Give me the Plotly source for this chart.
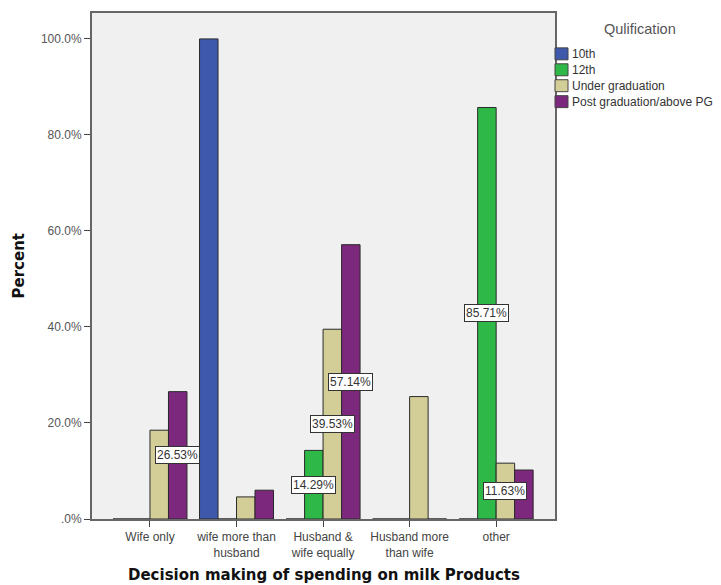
import plotly.graph_objects as go

categories = ["Wife only", "wife more than husband", "Husband & wife equally", "Husband more than wife", "other"]
category_labels = ["Wife only", "wife more than<br>husband", "Husband &<br>wife equally", "Husband more<br>than wife", "other"]
qualifications = ["10th", "12th", "Under graduation", "Post graduation/above PG"]

pct_10th = [0, 100.0, 0, 0, 0]
pct_12th = [0, 0, 14.29, 0, 85.71]
pct_ug = [18.5, 4.6, 39.53, 25.5, 11.63]
pct_pg = [26.53, 6.0, 57.14, 0, 10.2]

# which bars carry a boxed value label: (series index, category index)
labelled = [(3, 0), (1, 2), (2, 2), (3, 2), (1, 4), (2, 4)]

y_tickvals = [0, 20, 40, 60, 80, 100]
y_ticktext = [".0%", "20.0%", "40.0%", "60.0%", "80.0%", "100.0%"]

colors = ["#3e58ac", "#2eb848", "#d3ce97", "#7c287d"]
series = [pct_10th, pct_12th, pct_ug, pct_pg]

FONT = "Arial, Liberation Sans, sans-serif"
BOLD = "DejaVu Sans, Verdana, sans-serif"
BARGAP = 0.145
bar_w = (1 - BARGAP) / len(series)

# page has an 8px body margin, so the figure is sized to fit inside it
W, H = 713, 577
ML, MR, MT, MB = 84, 166, 3, 66
PW, PH = W - ML - MR, H - MT - MB


def px(x_page):
    return (x_page - 8 - ML) / PW


def py(y_page):
    return 1 - (y_page - 8 - MT) / PH


def note(x, y, text, **kw):
    kw.setdefault("xanchor", "center")
    fig.add_annotation(x=x, y=y, xref="paper", yref="paper", text=text,
                       showarrow=False, yanchor="middle", **kw)


fig = go.Figure()
for name, vals, col in zip(qualifications, series, colors):
    fig.add_trace(go.Bar(
        x=categories, y=vals, name=name,
        marker=dict(color=col, line=dict(color="#2a2a2a", width=1)),
    ))

for s, c in labelled:
    v = series[s][c]
    fig.add_annotation(
        x=c + (s - 1.5) * bar_w, y=v / 2, xref="x", yref="y",
        text=f"{v:.2f}%", showarrow=False,
        font=dict(family=FONT, size=12, color="#333"),
        bgcolor="white", bordercolor="#333", borderwidth=1, borderpad=1,
    )

# legend drawn by hand so the tight SPSS spacing can be matched
note(px(640), py(27), "Qulification", font=dict(family=FONT, size=14.5, color="#555"))
for i, (name, col) in enumerate(zip(qualifications, colors)):
    yc = 52 + i * 16
    fig.add_shape(
        type="rect", xref="paper", yref="paper",
        x0=px(555), x1=px(568), y0=py(yc - 6), y1=py(yc + 6),
        fillcolor=col, line=dict(color="#444", width=1),
    )
    note(px(570), py(yc), name, xanchor="left", font=dict(family=FONT, size=12, color="#333"))

note(px(18.5), 0.5, "<b>Percent</b>", textangle=-90, font=dict(family=BOLD, size=15, color="#111"))
note(0.5, py(575), "<b>Decision making of spending on milk Products</b>",
     font=dict(family=BOLD, size=15, color="#111"))

fig.update_layout(
    width=W, height=H,
    margin=dict(l=ML, r=MR, t=MT, b=MB),
    barmode="group", bargap=BARGAP, bargroupgap=0,
    paper_bgcolor="white", plot_bgcolor="#f0f0f0",
    font=dict(family=FONT, size=12, color="#444"),
    showlegend=False,
)
fig.update_xaxes(
    categoryorder="array", categoryarray=categories,
    tickvals=categories, ticktext=category_labels,
    range=[-0.67, 4.68],
    ticks="outside", ticklen=6, tickcolor="#444",
    showline=True, linecolor="#666", linewidth=2, mirror=True,
    showgrid=False,
    tickfont=dict(size=12, color="#444"),
)
fig.update_yaxes(
    range=[0, 105.4],
    tickvals=y_tickvals, ticktext=y_ticktext,
    ticks="outside", ticklen=6, tickcolor="#444",
    showline=True, linecolor="#666", linewidth=2, mirror=True,
    showgrid=False, zeroline=False,
    tickfont=dict(size=12, color="#555"),
)

fig.write_html("out.html")
